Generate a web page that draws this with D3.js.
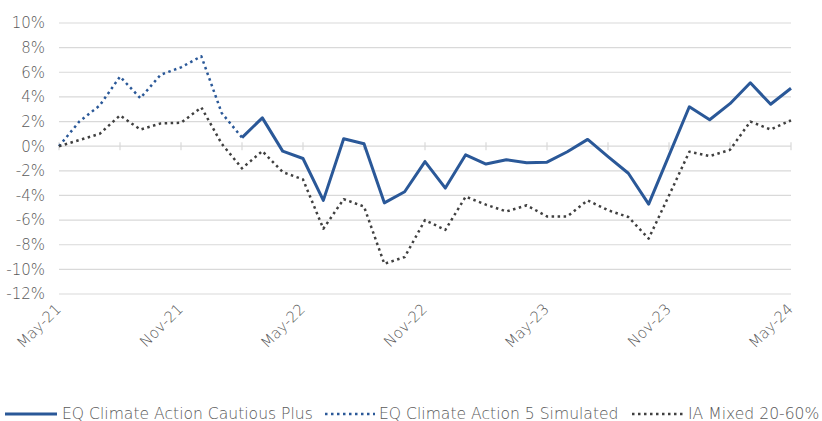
<!DOCTYPE html>
<html>
<head>
<meta charset="utf-8">
<script src="https://cdn.jsdelivr.net/npm/d3@7"></script>
<style>
  body { margin: 0; background: #fff; }
  svg { display: block; font-family: "DejaVu Sans", sans-serif; font-weight: 200; }
</style>
</head>
<body>
<svg id="chart" width="822" height="421"></svg>
<script>
// monthly points, May-21 .. May-24
const months = d3.range(37).map(i => new Date(2021, 4 + i, 1));
const tickLabels = ['May-21', 'Nov-21', 'May-22', 'Nov-22', 'May-23', 'Nov-23', 'May-24'];
const yTicks = d3.range(-12, 11, 2);

// values in %, null where the series has no point
const cautiousPlus = [
    null, null, null, null, null, null, null, null, null, 0.7,
    2.3, -0.4, -1.0, -4.4, 0.6, 0.2, -4.6, -3.7, -1.25, -3.4,
    -0.7, -1.45, -1.1, -1.35, -1.3, -0.45, 0.55, -0.85, -2.2, -4.7,
    -0.75, 3.2, 2.15, 3.45, 5.15, 3.4, 4.7
];
const simulated = [
    0, 2.0, 3.3, 5.65, 3.9, 5.8, 6.4, 7.3, 2.7, 0.7,
    null, null, null, null, null, null, null, null, null, null,
    null, null, null, null, null, null, null, null, null, null,
    null, null, null, null, null, null, null
];
const iaMixed = [
    0, 0.5, 1.0, 2.5, 1.35, 1.85, 1.9, 3.15, 0.2, -1.8,
    -0.4, -2.1, -2.7, -6.7, -4.3, -4.9, -9.55, -9.0, -6.0, -6.8,
    -4.1, -4.75, -5.3, -4.8, -5.7, -5.7, -4.4, -5.2, -5.75, -7.5,
    -4.0, -0.45, -0.8, -0.3, 2.0, 1.35, 2.1
];

const seriesNames = ['EQ Climate Action Cautious Plus', 'EQ Climate Action 5 Simulated', 'IA Mixed 20-60%'];

const BLUE = '#2a5898';
const DARK = '#404040';
const TEXT = '#595959';
const GRID = '#d9d9d9';
const FONT_SIZE = 15;
const LEGEND_FONT_SIZE = 15.6;

const series = [
    { name: seriesNames[0], values: cautiousPlus, color: BLUE, width: 3, dash: null },
    { name: seriesNames[1], values: simulated, color: BLUE, width: 2.5, dash: '2.5 3.5' },
    { name: seriesNames[2], values: iaMixed, color: DARK, width: 2.5, dash: '2.5 3.5' }
];

const svg = d3.select('#chart');
const margin = { left: 59, right: 31, top: 23, bottom: 127 };
const W = 822, H = 421;

const x = d3.scaleLinear().domain([0, 36]).range([margin.left, W - margin.right]);
const y = d3.scaleLinear().domain([-12, 10]).range([H - margin.bottom, margin.top]);

// gridlines
svg.append('g')
    .selectAll('line')
    .data(yTicks)
    .join('line')
    .attr('x1', x(0)).attr('x2', x(36))
    .attr('y1', d => y(d)).attr('y2', d => y(d))
    .attr('stroke', GRID)
    .attr('stroke-width', 1.2);

// y labels
svg.append('g')
    .selectAll('text')
    .data(yTicks)
    .join('text')
    .attr('x', 45)
    .attr('y', d => y(d))
    .attr('dy', '0.36em')
    .attr('text-anchor', 'end')
    .attr('fill', TEXT)
    .attr('font-size', FONT_SIZE)
    .text(d => d + '%');

// tick marks on the 0% line, every 3 months
svg.append('g')
    .selectAll('line')
    .data(d3.range(0, 37, 3))
    .join('line')
    .attr('x1', d => x(d)).attr('x2', d => x(d))
    .attr('y1', y(0) - 4).attr('y2', y(0) + 4)
    .attr('stroke', GRID)
    .attr('stroke-width', 1.2);

// x labels every 6 months, rotated
svg.append('g')
    .selectAll('text')
    .data(tickLabels)
    .join('text')
    .attr('transform', (d, i) => `translate(${x(i * 6) + 3},${y(-12) + 16}) rotate(-45)`)
    .attr('text-anchor', 'end')
    .attr('fill', TEXT)
    .attr('font-size', FONT_SIZE)
    .text(d => d);

// lines
const line = d3.line()
    .defined(d => d != null)
    .x((d, i) => x(i))
    .y(d => y(d));

series.forEach(s => {
    svg.append('path')
        .datum(s.values)
        .attr('fill', 'none')
        .attr('stroke', s.color)
        .attr('stroke-width', s.width)
        .attr('stroke-linejoin', 'round')
        .attr('stroke-dasharray', s.dash)
        .attr('d', line);
});

// legend
const legendItems = [
    { x1: 5, x2: 57, tx: 62 },
    { x1: 325, x2: 375, tx: 379 },
    { x1: 632, x2: 684, tx: 688 }
];
const legend = svg.append('g');
series.forEach((s, i) => {
    const pos = legendItems[i];
    legend.append('line')
        .attr('x1', pos.x1).attr('x2', pos.x2)
        .attr('y1', 414).attr('y2', 414)
        .attr('stroke', s.color)
        .attr('stroke-width', s.width)
        .attr('stroke-dasharray', s.dash);
    legend.append('text')
        .attr('x', pos.tx)
        .attr('y', 418.5)
        .attr('fill', TEXT)
        .attr('font-size', LEGEND_FONT_SIZE)
        .text(s.name);
});
</script>
</body>
</html>
